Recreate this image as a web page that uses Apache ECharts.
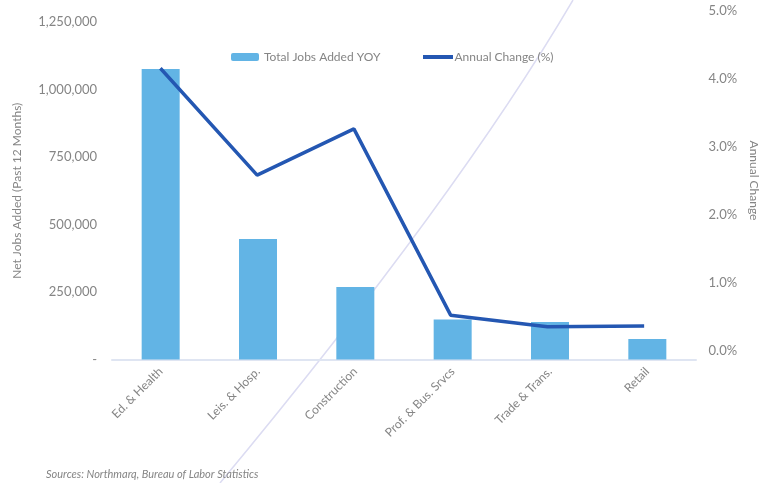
<!DOCTYPE html>
<html>
<head>
<meta charset="utf-8">
<script src="https://cdn.jsdelivr.net/npm/echarts@6/dist/echarts.min.js"></script>
<style>
    html, body { margin: 0; padding: 0; background: #ffffff; }
    #chart { width: 768px; height: 483px; }
</style>
</head>
<body>
<div id="chart"></div>
<script>
const categories = ["Ed. & Health", "Leis. & Hosp.", "Construction", "Prof. & Bus. Srvcs", "Trade & Trans.", "Retail"];
const jobsAdded = [1076000, 446000, 268500, 148000, 139000, 76000];
const annualChange = [4.15, 2.58, 3.26, 0.52, 0.35, 0.36];
const leftTicks = { min: 0, max: 1250000, interval: 250000 };
const rightTicks = { min: 0, max: 5, interval: 1 };

const chart = echarts.init(document.getElementById("chart"));

const labelFont = "Lato, 'Noto Sans', sans-serif";
const gray = "#858585";

chart.setOption({
    animation: false,
    textStyle: { fontFamily: labelFont, color: gray },
    legend: [
        {
            data: ["Total Jobs Added YOY"],
            left: 226,
            top: 46,
            itemWidth: 28,
            itemHeight: 8,
            itemGap: 0,
            textStyle: { color: gray, fontSize: 12, fontFamily: labelFont }
        },
        {
            data: [{ name: "Annual Change (%)", icon: "path://M0,0 L30,0 L30,4 L0,4 Z" }],
            left: 418,
            top: 46,
            itemWidth: 31,
            itemHeight: 4,
            itemGap: 0,
            textStyle: { color: gray, fontSize: 12, fontFamily: labelFont, padding: [0, 0, 0, -4] }
        }
    ],
    grid: [
        { left: 112, right: 72, top: 22, bottom: 123.5 },
        { left: 112, right: 72, top: 10.5, bottom: 132.5 }
    ],
    xAxis: [
        {
            type: "category",
            gridIndex: 0,
            data: categories,
            axisLine: { lineStyle: { color: "#dfe5f2", width: 2 } },
            axisTick: { show: false },
            axisLabel: { rotate: 45, margin: 10, color: gray, fontSize: 12, interval: 0 }
        },
        {
            type: "category",
            gridIndex: 1,
            data: categories,
            show: false
        }
    ],
    yAxis: [
        {
            type: "value",
            gridIndex: 0,
            min: leftTicks.min,
            max: leftTicks.max,
            interval: leftTicks.interval,
            name: "Net Jobs Added (Past 12 Months)",
            nameLocation: "middle",
            nameGap: 89,
            nameTextStyle: { color: gray, fontSize: 12 },
            splitLine: { show: false },
            axisLine: { show: false },
            axisTick: { show: false },
            axisLabel: {
                margin: 15,
                color: gray,
                fontSize: 13,
                formatter: v => v === 0 ? "-" : v.toLocaleString("en-US")
            }
        },
        {
            type: "value",
            gridIndex: 1,
            position: "right",
            min: rightTicks.min,
            max: rightTicks.max,
            interval: rightTicks.interval,
            name: "Annual Change",
            nameLocation: "middle",
            nameRotate: -90,
            nameGap: 47,
            nameTextStyle: { color: gray, fontSize: 12 },
            splitLine: { show: false },
            axisLine: { show: false },
            axisTick: { show: false },
            axisLabel: {
                margin: 16,
                color: gray,
                fontSize: 13,
                formatter: v => v.toFixed(1) + "%"
            }
        }
    ],
    series: [
        {
            name: "Total Jobs Added YOY",
            type: "bar",
            xAxisIndex: 0,
            yAxisIndex: 0,
            data: jobsAdded,
            barWidth: 38,
            itemStyle: { color: "#62b4e5" }
        },
        {
            name: "Annual Change (%)",
            type: "line",
            xAxisIndex: 1,
            yAxisIndex: 1,
            data: annualChange,
            symbol: "none",
            itemStyle: { color: "#2457b2" },
            lineStyle: { color: "#2457b2", width: 3.5 }
        }
    ],
    graphic: [
        {
            type: "bezierCurve",
            silent: true,
            z: -1,
            shape: { x1: 220, y1: 483, cpx1: 458, cpy1: 196, x2: 573, y2: 0 },
            style: { stroke: "#dcdcf2", lineWidth: 1.5, fill: null }
        },
        {
            type: "text",
            left: 46,
            top: 469,
            style: {
                text: "Sources: Northmarq, Bureau of Labor Statistics",
                fill: gray,
                font: "italic 11px " + labelFont
            }
        }
    ]
});
</script>
</body>
</html>
